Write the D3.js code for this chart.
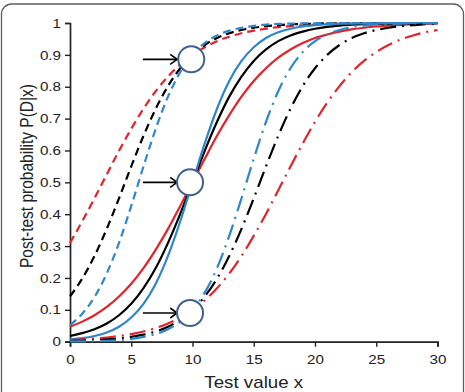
<!DOCTYPE html>
<html>
<head>
<meta charset="utf-8">
<script src="https://cdn.jsdelivr.net/npm/d3@7"></script>
<style>
  html, body { margin: 0; padding: 0; background: #fff; }
  svg { display: block; font-family: "Liberation Sans", Arial, sans-serif; }
  .tick text { font-size: 13px; fill: #222; }
  .axis-label { font-size: 16px; fill: #222; }
</style>
</head>
<body>
<svg id="chart" width="465" height="392"></svg>
<script>
// ======================
// DATA
// ======================

const xValues = [0, 1, 2, 3, 4, 5, 6, 7, 8, 9, 10, 11, 12, 13, 14, 15,
    16, 17, 18, 19, 20, 21, 22, 23, 24, 25, 26, 27, 28, 29, 30];

// solid curves: P = 0.5 at x = 10
const redSolid = [0.047, 0.063, 0.083, 0.109, 0.142, 0.182, 0.231, 0.289, 0.354, 0.426, 0.5,
    0.574, 0.646, 0.711, 0.769, 0.818, 0.858, 0.891, 0.917, 0.937, 0.953,
    0.964, 0.973, 0.980, 0.985, 0.989, 0.992, 0.994, 0.996, 0.997, 0.998];
const blackSolid = [0.018, 0.027, 0.039, 0.057, 0.083, 0.119, 0.168, 0.231, 0.310, 0.401, 0.5,
    0.599, 0.690, 0.769, 0.832, 0.881, 0.917, 0.943, 0.961, 0.973, 0.982,
    0.988, 0.992, 0.995, 0.996, 0.998, 0.998, 0.999, 0.999, 1, 1];
const blueSolid = [0.007, 0.011, 0.018, 0.029, 0.047, 0.076, 0.119, 0.182, 0.269, 0.378, 0.5,
    0.622, 0.731, 0.818, 0.881, 0.924, 0.953, 0.971, 0.982, 0.989, 0.993,
    0.996, 0.998, 0.998, 0.999, 0.999, 1, 1, 1, 1, 1];

// dashed curves: P = 0.9 at x = 10
const redDashed = [0.310, 0.378, 0.450, 0.525, 0.599, 0.668, 0.731, 0.786, 0.832, 0.870, 0.900,
    0.924, 0.943, 0.957, 0.968, 0.976, 0.982, 0.987, 0.990, 0.993, 0.995,
    0.996, 0.997, 0.998, 0.998, 0.999, 0.999, 0.999, 1, 1, 1];
const blackDashed = [0.142, 0.198, 0.269, 0.354, 0.450, 0.550, 0.646, 0.731, 0.802, 0.858, 0.900,
    0.931, 0.953, 0.968, 0.978, 0.985, 0.990, 0.993, 0.996, 0.997, 0.998,
    0.999, 0.999, 0.999, 1, 1, 1, 1, 1, 1, 1];
const blueDashed = [0.052, 0.088, 0.140, 0.214, 0.310, 0.426, 0.550, 0.668, 0.769, 0.846, 0.900,
    0.937, 0.961, 0.976, 0.985, 0.991, 0.995, 0.997, 0.998, 0.999, 0.999,
    1, 1, 1, 1, 1, 1, 1, 1, 1, 1];

// dash-dot curves: P = 0.1 at x = 10
const redDashDot = [0.005, 0.007, 0.010, 0.013, 0.018, 0.024, 0.032, 0.043, 0.057, 0.076, 0.100,
    0.130, 0.168, 0.214, 0.269, 0.332, 0.401, 0.475, 0.550, 0.622, 0.690,
    0.750, 0.802, 0.846, 0.881, 0.909, 0.931, 0.948, 0.961, 0.971, 0.978];
const blackDashDot = [0.002, 0.003, 0.004, 0.007, 0.010, 0.015, 0.022, 0.032, 0.047, 0.069, 0.100,
    0.142, 0.198, 0.269, 0.354, 0.450, 0.550, 0.646, 0.731, 0.802, 0.858,
    0.900, 0.931, 0.953, 0.968, 0.978, 0.985, 0.990, 0.993, 0.996, 0.997];
const blueDashDot = [0.001, 0.001, 0.002, 0.003, 0.005, 0.009, 0.015, 0.024, 0.039, 0.063, 0.100,
    0.154, 0.231, 0.332, 0.450, 0.574, 0.690, 0.786, 0.858, 0.909, 0.943,
    0.964, 0.978, 0.987, 0.992, 0.995, 0.997, 0.998, 0.999, 0.999, 0.999];

// marked points (circle + arrow)
const markerX = [9.9, 9.8, 9.8];
const markerY = [0.886, 0.5, 0.09];
const arrowStartX = 5.95;
const arrowEndX = 8.75;

const xTicks = [0, 5, 10, 15, 20, 25, 30];
const yTicks = [0, 0.1, 0.2, 0.3, 0.4, 0.5, 0.6, 0.7, 0.8, 0.9, 1];

const RED = "#e3232b";
const BLACK = "#000000";
const BLUE = "#2f86c8";

const series = [
    { values: redDashed, color: RED, dash: "8,5" },
    { values: blackDashed, color: BLACK, dash: "8,5" },
    { values: blueDashed, color: BLUE, dash: "8,5" },
    { values: redSolid, color: RED, dash: null },
    { values: blackSolid, color: BLACK, dash: null },
    { values: blueSolid, color: BLUE, dash: null },
    { values: redDashDot, color: RED, dash: "16,6,2,6" },
    { values: blackDashDot, color: BLACK, dash: "16,6,2,6" },
    { values: blueDashDot, color: BLUE, dash: "16,6,2,6" }
];

// the source picture is a bit wider than tall, so text gets stretched sideways
const STRETCH = 1.17;

// ======================
// SETUP
// ======================

const svg = d3.select("#chart");

// rounded frame round the figure
svg.append("rect")
    .attr("x", 1.5)
    .attr("y", 4)
    .attr("width", 462)
    .attr("height", 410)
    .attr("rx", 10)
    .attr("fill", "none")
    .attr("stroke", "#5f5f5f")
    .attr("stroke-width", 1.3);

const xScale = d3.scaleLinear().domain([0, 30]).range([70, 437.5]);
const yScale = d3.scaleLinear().domain([0, 1]).range([341.7, 23]);

const xAxisG = svg.append("g")
    .attr("transform", `translate(0,${yScale(0)})`)
    .call(d3.axisBottom(xScale).tickValues(xTicks).tickSize(5).tickPadding(8)
        .tickFormat(d3.format("d")));
const yAxisG = svg.append("g")
    .attr("transform", `translate(${xScale(0)},0)`)
    .call(d3.axisLeft(yScale).tickValues(yTicks).tickSize(5).tickPadding(4)
        .tickFormat(d => d === 0 || d === 1 ? d3.format("d")(d) : d3.format(".1f")(d)));

[xAxisG, yAxisG].forEach(g => {
    g.select(".domain").attr("stroke", "#222").attr("stroke-width", 1.7);
    g.selectAll(".tick line").attr("stroke", "#222").attr("stroke-width", 1.4);
    g.selectAll(".tick text").attr("font-family", "Liberation Sans, Arial, sans-serif");
});

// widen the tick labels without moving their anchors
xAxisG.selectAll(".tick text").attr("transform", `scale(${STRETCH},1)`);
yAxisG.selectAll(".tick text")
    .attr("x", -9 / STRETCH)
    .attr("transform", `scale(${STRETCH},1)`);

// ======================
// CURVES
// ======================

const line = d3.line()
    .x((d, i) => xScale(xValues[i]))
    .y(d => yScale(d))
    .curve(d3.curveMonotoneX);

svg.append("g")
    .selectAll("path")
    .data(series)
    .enter()
    .append("path")
    .attr("d", d => line(d.values))
    .attr("fill", "none")
    .attr("stroke", d => d.color)
    .attr("stroke-width", 2.2)
    .attr("stroke-dasharray", d => d.dash);

// ======================
// ARROWS & CIRCLES
// ======================

const marks = svg.append("g");

markerY.forEach((yv, i) => {
    const y = yScale(yv);
    const x0 = xScale(arrowStartX);
    const x1 = xScale(arrowEndX);
    marks.append("line")
        .attr("x1", x0).attr("x2", x1)
        .attr("y1", y).attr("y2", y)
        .attr("stroke", "#000")
        .attr("stroke-width", 1.6);
    marks.append("path")
        .attr("d", `M${x1 - 7},${y - 5}L${x1},${y}L${x1 - 7},${y + 5}`)
        .attr("fill", "none")
        .attr("stroke", "#000")
        .attr("stroke-width", 1.6);
    marks.append("circle")
        .attr("cx", xScale(markerX[i]))
        .attr("cy", y)
        .attr("r", 13)
        .attr("fill", "#fff")
        .attr("stroke", "#3f6190")
        .attr("stroke-width", 2);
});

// ======================
// LABELS
// ======================

svg.append("text")
    .attr("class", "axis-label")
    .attr("transform", `translate(${(xScale(0) + xScale(30)) / 2},388) scale(${STRETCH},1)`)
    .attr("text-anchor", "middle")
    .text("Test value  x");

svg.append("text")
    .attr("class", "axis-label")
    .style("font-size", "15.5px")
    .attr("transform", `translate(33,176) rotate(-90) scale(1,${STRETCH})`)
    .attr("text-anchor", "middle")
    .text("Post-test probability  P(D|x)");
</script>
</body>
</html>
